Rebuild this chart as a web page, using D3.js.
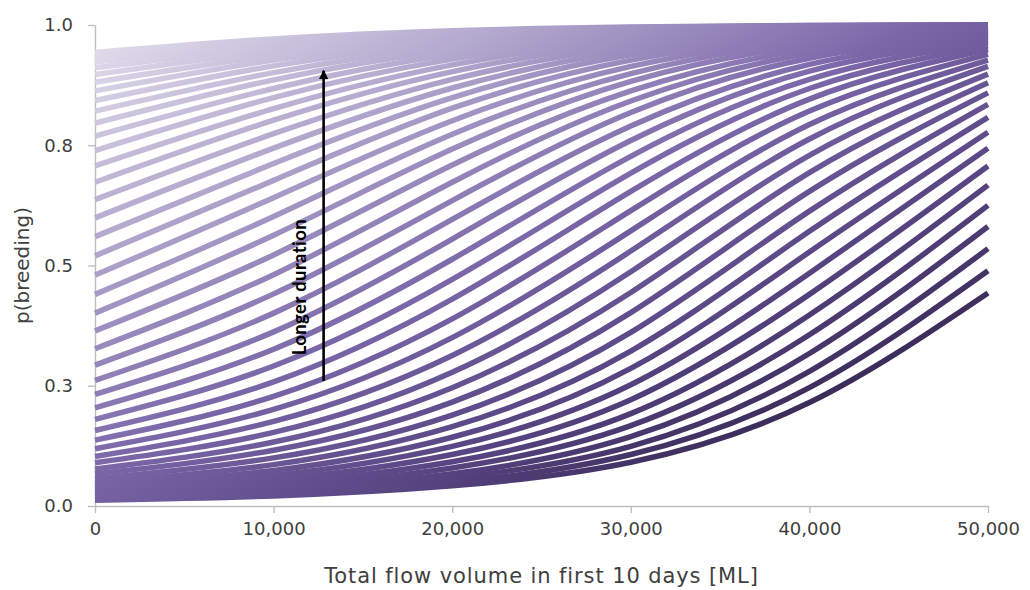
<!DOCTYPE html>
<html>
<head>
<meta charset="utf-8">
<script src="https://cdn.jsdelivr.net/npm/d3@7"></script>
<style>
  html, body { margin: 0; padding: 0; background: #ffffff; }
  svg { display: block; }
  .axis text { font-family: "DejaVu Sans", sans-serif; fill: #404040; }
</style>
</head>
<body>
<svg id="chart" width="1030" height="590"></svg>
<script>
// ---- data ----
const flowVolume = [0, 10000, 20000, 30000, 40000, 50000];
const xTickValues = [0, 10000, 20000, 30000, 40000, 50000];
const yTickValues = [0, 0.25, 0.5, 0.75, 1.0];
const yTickLabels = ["0.0", "0.3", "0.5", "0.8", "1.0"];
const xAxisTitle = "Total flow volume in first 10 days [ML]";
const yAxisTitle = "p(breeding)";
const arrowLabel = "Longer duration";

// one row per duration curve (shortest duration first), p(breeding) at each flowVolume
const pBreeding = [
  [0.012, 0.021, 0.042, 0.091, 0.215, 0.443],
  [0.014, 0.025, 0.049, 0.107, 0.246, 0.489],
  [0.017, 0.029, 0.058, 0.124, 0.280, 0.535],
  [0.020, 0.034, 0.067, 0.144, 0.317, 0.581],
  [0.023, 0.040, 0.079, 0.167, 0.356, 0.625],
  [0.027, 0.047, 0.092, 0.192, 0.397, 0.667],
  [0.031, 0.055, 0.107, 0.221, 0.440, 0.707],
  [0.036, 0.064, 0.124, 0.252, 0.484, 0.744],
  [0.042, 0.074, 0.143, 0.286, 0.528, 0.777],
  [0.049, 0.086, 0.165, 0.322, 0.571, 0.808],
  [0.057, 0.100, 0.189, 0.361, 0.613, 0.835],
  [0.067, 0.116, 0.216, 0.402, 0.654, 0.859],
  [0.077, 0.133, 0.246, 0.444, 0.693, 0.880],
  [0.090, 0.153, 0.278, 0.487, 0.729, 0.898],
  [0.103, 0.176, 0.313, 0.530, 0.763, 0.914],
  [0.119, 0.201, 0.350, 0.572, 0.793, 0.927],
  [0.137, 0.228, 0.389, 0.614, 0.821, 0.939],
  [0.157, 0.258, 0.430, 0.654, 0.846, 0.949],
  [0.180, 0.291, 0.471, 0.692, 0.868, 0.957],
  [0.204, 0.326, 0.513, 0.727, 0.887, 0.964],
  [0.232, 0.362, 0.555, 0.760, 0.904, 0.970],
  [0.261, 0.401, 0.596, 0.790, 0.918, 0.975],
  [0.293, 0.441, 0.635, 0.818, 0.931, 0.979],
  [0.327, 0.481, 0.673, 0.842, 0.941, 0.983],
  [0.364, 0.522, 0.709, 0.863, 0.950, 0.985],
  [0.401, 0.563, 0.742, 0.883, 0.958, 0.988],
  [0.440, 0.602, 0.773, 0.899, 0.965, 0.990],
  [0.480, 0.641, 0.801, 0.914, 0.970, 0.992],
  [0.520, 0.677, 0.827, 0.927, 0.975, 0.993],
  [0.560, 0.712, 0.849, 0.938, 0.979, 0.994],
  [0.599, 0.744, 0.869, 0.947, 0.982, 0.995],
  [0.637, 0.774, 0.887, 0.955, 0.985, 0.996],
  [0.673, 0.802, 0.903, 0.962, 0.988, 0.997],
  [0.707, 0.826, 0.917, 0.968, 0.990, 0.997],
  [0.739, 0.849, 0.929, 0.973, 0.991, 0.998],
  [0.769, 0.868, 0.939, 0.977, 0.993, 0.998],
  [0.796, 0.886, 0.948, 0.981, 0.994, 0.998],
  [0.821, 0.901, 0.956, 0.984, 0.995, 0.999],
  [0.843, 0.915, 0.962, 0.986, 0.996, 0.999],
  [0.863, 0.927, 0.968, 0.988, 0.996, 0.999],
  [0.881, 0.937, 0.973, 0.990, 0.997, 0.999],
  [0.897, 0.946, 0.977, 0.992, 0.998, 0.999],
  [0.911, 0.954, 0.980, 0.993, 0.998, 1.000],
  [0.923, 0.961, 0.983, 0.994, 0.998, 1.000],
  [0.933, 0.966, 0.986, 0.995, 0.999, 1.000],
  [0.943, 0.971, 0.988, 0.996, 0.999, 1.000]
];

// ---- layout ----
const svg = d3.select("#chart");
const margin = { left: 95, right: 42, top: 25, bottom: 84 };
const W = 1030, H = 590;
const x = d3.scaleLinear().domain([0, 50000]).range([margin.left, W - margin.right]);
const y = d3.scaleLinear().domain([0, 1]).range([H - margin.bottom, margin.top]);

// colour gradient (light top-left -> dark bottom-right)
const defs = svg.append("defs");
const grad = defs.append("linearGradient")
  .attr("id", "lineGrad")
  .attr("gradientUnits", "userSpaceOnUse")
  .attr("x1", x(0)).attr("y1", y(1))
  .attr("x2", x(0) + 335).attr("y2", y(1) + 621);
[[0, "#e4e1ee"], [0.28, "#b2a7cd"], [0.55, "#7c68a9"], [0.8, "#55427f"], [1, "#35264f"]]
  .forEach(([o, c]) => grad.append("stop").attr("offset", o).attr("stop-color", c));

// axes
const axisColor = "#bfbfbf";
svg.append("g").attr("class", "axis")
  .attr("transform", `translate(${x(0)},0)`)
  .call(d3.axisLeft(y).tickValues(yTickValues).tickFormat((d, i) => yTickLabels[i])
    .tickSize(7).tickSizeOuter(0).tickPadding(15));
svg.append("g").attr("class", "axis")
  .attr("transform", `translate(0,${y(0)})`)
  .call(d3.axisBottom(x).tickValues(xTickValues).tickFormat(d3.format(","))
    .tickSize(7).tickSizeOuter(0).tickPadding(9));
svg.selectAll(".axis path, .axis line").attr("stroke", axisColor).attr("stroke-width", 1.4);
svg.selectAll(".axis text").attr("font-size", 18);

// curves
const line = d3.line()
  .x((d, i) => x(flowVolume[i]))
  .y(d => y(d))
  .curve(d3.curveNatural);

svg.append("g")
  .selectAll("path")
  .data(pBreeding)
  .join("path")
  .attr("d", line)
  .attr("fill", "none")
  .attr("stroke", "url(#lineGrad)")
  .attr("stroke-width", 5.5)
  .attr("stroke-linecap", "butt");

// axis titles
svg.append("text")
  .attr("x", (x(0) + x(50000)) / 2).attr("y", 583)
  .attr("text-anchor", "middle")
  .attr("font-family", "DejaVu Sans, sans-serif").attr("font-size", 21)
  .attr("letter-spacing", 0.9)
  .attr("fill", "#404040")
  .text(xAxisTitle);
svg.append("text")
  .attr("transform", `translate(29,${(y(0) + y(1)) / 2}) rotate(-90)`)
  .attr("text-anchor", "middle")
  .attr("font-family", "DejaVu Sans, sans-serif").attr("font-size", 20)
  .attr("fill", "#404040")
  .text(yAxisTitle);

// annotation arrow
const ax = x(12800);
defs.append("marker").attr("id", "arrowHead")
  .attr("viewBox", "0 0 10 10").attr("refX", 9).attr("refY", 5)
  .attr("markerWidth", 3.6).attr("markerHeight", 3.6)
  .attr("markerUnits", "strokeWidth")
  .attr("orient", "auto")
  .append("path").attr("d", "M0,0 L10,5 L0,10 z").attr("fill", "#000");
svg.append("line")
  .attr("x1", ax).attr("y1", y(0.26))
  .attr("x2", ax).attr("y2", y(0.905))
  .attr("stroke", "#000").attr("stroke-width", 2.6)
  .attr("marker-end", "url(#arrowHead)");
svg.append("text")
  .attr("transform", `translate(${ax - 18},${y(0.455)}) rotate(-90)`)
  .attr("text-anchor", "middle")
  .attr("font-family", "Lato, sans-serif").attr("font-weight", "bold")
  .attr("font-size", 18.5).attr("letter-spacing", 0.4).attr("fill", "#000")
  .text(arrowLabel);
</script>
</body>
</html>
